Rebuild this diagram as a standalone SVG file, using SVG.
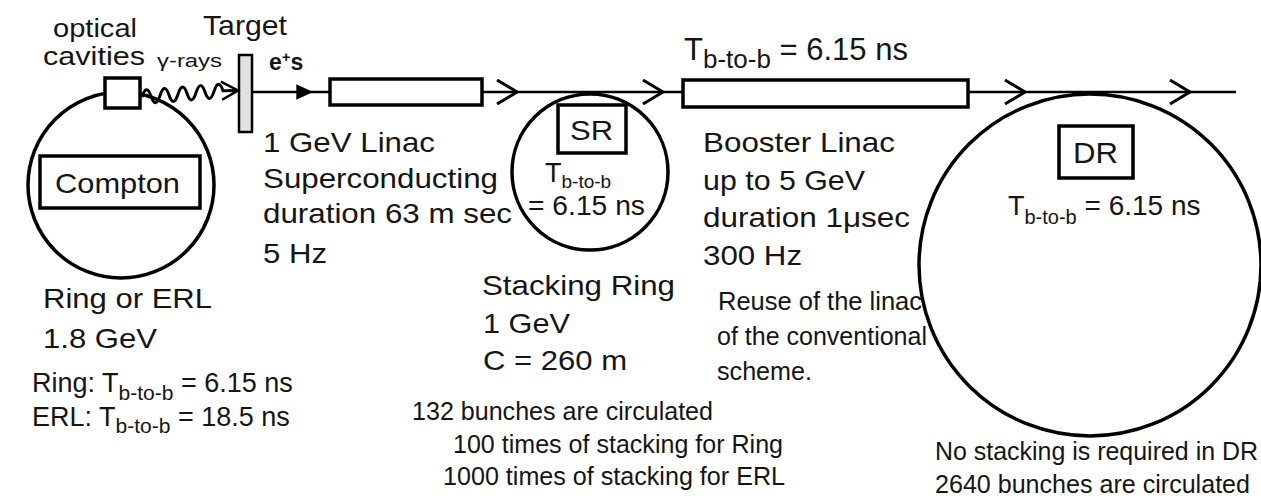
<svg xmlns="http://www.w3.org/2000/svg" width="1261" height="499" viewBox="0 0 1261 499">
<style>
text{font-family:"Liberation Sans",Arial,sans-serif;fill:#151515}
.ring{fill:none;stroke:#000;stroke-width:3.5}
.box{fill:#fff;stroke:#000;stroke-width:3.5}
.beam{fill:none;stroke:#000;stroke-width:2.5}
.big{font-size:28px}
.mid{font-size:25px}
</style>
<defs>
<marker id="chev" markerUnits="userSpaceOnUse" markerWidth="30" markerHeight="30" viewBox="-24 -15 28 30" refX="0" refY="0" orient="auto">
<path d="M-20,-12 L0,0 L-20,12" fill="none" stroke="#000" stroke-width="3"/>
</marker>
<marker id="chevs" markerUnits="userSpaceOnUse" markerWidth="24" markerHeight="24" viewBox="-20 -12 24 24" refX="0" refY="0" orient="auto">
<path d="M-17,-9 L0,0 L-16,9" fill="none" stroke="#000" stroke-width="2.5"/>
</marker>
<marker id="tri" markerUnits="userSpaceOnUse" markerWidth="20" markerHeight="20" viewBox="-16 -8 18 16" refX="0" refY="0" orient="auto">
<path d="M-15,-7 L0,0 L-15,7 Z" fill="#000"/>
</marker>
</defs>

<g id="compton">
<circle class="ring" cx="121" cy="185" r="93"/>
<rect class="box" x="40" y="156" width="160" height="52"/>
<text class="big" x="55" y="193" textLength="125" lengthAdjust="spacingAndGlyphs">Compton</text>
<text class="big" x="43" y="308" textLength="169" lengthAdjust="spacingAndGlyphs">Ring or ERL</text>
<text class="big" x="43" y="348" textLength="114" lengthAdjust="spacingAndGlyphs">1.8 GeV</text>
<text x="32" y="392" font-size="27">Ring: T<tspan font-size="21" dy="8">b-to-b</tspan><tspan dy="-8"> = 6.15 ns</tspan></text>
<text x="32" y="426" font-size="27">ERL: T<tspan font-size="21" dy="7">b-to-b</tspan><tspan dy="-7"> = 18.5 ns</tspan></text>
</g>

<g id="cavity">
<rect class="box" x="105" y="78" width="35" height="30"/>
<text x="53" y="37" font-size="25" textLength="84" lengthAdjust="spacingAndGlyphs">optical</text>
<text x="43" y="65" font-size="25" textLength="102" lengthAdjust="spacingAndGlyphs">cavities</text>
</g>

<g id="target">
<rect x="239" y="55" width="13" height="77" fill="#e2e2e2" stroke="#000" stroke-width="2.5"/>
<text x="203" y="35" font-size="28" textLength="84" lengthAdjust="spacingAndGlyphs">Target</text>
</g>

<g id="labels-beam">
<text x="157" y="67" font-size="18" textLength="65" lengthAdjust="spacingAndGlyphs">γ-rays</text>
<text x="269" y="70" font-size="23" font-weight="bold">e<tspan font-size="15" dy="-8">+</tspan><tspan dy="8">s</tspan></text>
</g>

<g id="linac1">
<rect class="box" x="330" y="79" width="152" height="26"/>
<text class="big" x="263" y="152" textLength="172" lengthAdjust="spacingAndGlyphs">1 GeV Linac</text>
<text class="big" x="263" y="188" textLength="235" lengthAdjust="spacingAndGlyphs">Superconducting</text>
<text class="big" x="263" y="223" textLength="249" lengthAdjust="spacingAndGlyphs">duration 63 m sec</text>
<text class="big" x="263" y="263" textLength="64" lengthAdjust="spacingAndGlyphs">5 Hz</text>
</g>

<g id="sr">
<circle class="ring" cx="590" cy="172" r="78"/>
<rect class="box" x="558" y="105" width="68" height="48"/>
<text class="big" x="570" y="140" textLength="43" lengthAdjust="spacingAndGlyphs">SR</text>
<text x="545" y="182" font-size="27">T<tspan font-size="19" dy="6">b-to-b</tspan></text>
<text x="528" y="215" font-size="27" textLength="117" lengthAdjust="spacingAndGlyphs">= 6.15 ns</text>
<text class="big" x="482" y="295" textLength="193" lengthAdjust="spacingAndGlyphs">Stacking Ring</text>
<text class="big" x="483" y="333" textLength="87" lengthAdjust="spacingAndGlyphs">1 GeV</text>
<text class="big" x="483" y="370" textLength="144" lengthAdjust="spacingAndGlyphs">C = 260 m</text>
<text class="mid" x="412" y="420" textLength="301" lengthAdjust="spacingAndGlyphs">132 bunches are circulated</text>
<text class="mid" x="453" y="453" textLength="330" lengthAdjust="spacingAndGlyphs">100 times of stacking for Ring</text>
<text class="mid" x="443" y="485" textLength="342" lengthAdjust="spacingAndGlyphs">1000 times of stacking for ERL</text>
</g>

<g id="booster">
<rect class="box" x="683" y="80" width="285" height="27"/>
<text x="684" y="60" font-size="31">T<tspan font-size="26" dy="8">b-to-b</tspan><tspan dy="-8"> = 6.15 ns</tspan></text>
<text class="big" x="703" y="152" textLength="192" lengthAdjust="spacingAndGlyphs">Booster Linac</text>
<text class="big" x="703" y="190" textLength="162" lengthAdjust="spacingAndGlyphs">up to 5 GeV</text>
<text class="big" x="703" y="227" textLength="207" lengthAdjust="spacingAndGlyphs">duration 1μsec</text>
<text class="big" x="703" y="265" textLength="99" lengthAdjust="spacingAndGlyphs">300 Hz</text>
<text class="mid" x="718" y="310" textLength="204" lengthAdjust="spacingAndGlyphs">Reuse of the linac</text>
<text class="mid" x="717" y="345" textLength="210" lengthAdjust="spacingAndGlyphs">of the conventional</text>
<text class="mid" x="717" y="380" textLength="95" lengthAdjust="spacingAndGlyphs">scheme.</text>
</g>

<g id="dr">
<circle class="ring" cx="1090" cy="265" r="171"/>
<rect class="box" x="1059" y="126" width="74" height="52"/>
<text x="1073" y="163" font-size="30" textLength="45" lengthAdjust="spacingAndGlyphs">DR</text>
<text x="1008" y="215" font-size="27">T<tspan font-size="20" dy="9">b-to-b</tspan><tspan dy="-9" font-size="28"> = 6.15 ns</tspan></text>
<text class="mid" x="935" y="460" textLength="323" lengthAdjust="spacingAndGlyphs">No stacking is required in DR</text>
<text class="mid" x="935" y="493" textLength="315" lengthAdjust="spacingAndGlyphs">2640 bunches are circulated</text>
</g>

<g id="connectors">
<path d="M142,97 q4.5,-14 9,-0.7 t9,-0.7 t9,-0.7 t9,-0.7 t9,-0.7 t9,-0.7 t9,-0.7 t9,-0.7 t9,-0.7 L238,90.5" fill="none" stroke="#000" stroke-width="3" marker-end="url(#chevs)"/>
<path class="beam" d="M252,92 L313,92" marker-end="url(#tri)"/>
<path class="beam" d="M313,92 L330,92"/>
<path class="beam" d="M482,92 L517,92" marker-end="url(#chev)"/>
<path class="beam" d="M517,92 L663,92" marker-end="url(#chev)"/>
<path class="beam" d="M663,92 L683,92"/>
<path class="beam" d="M968,92 L1025,92" marker-end="url(#chev)"/>
<path class="beam" d="M1025,92 L1190,92" marker-end="url(#chev)"/>
<path class="beam" d="M1190,92 L1236,92"/>
</g>
</svg>
